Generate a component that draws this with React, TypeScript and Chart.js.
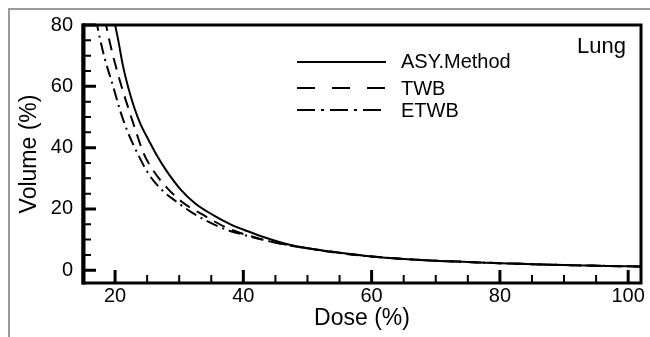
import React, { useEffect, useRef } from 'react';
import { Chart, registerables } from 'chart.js';

Chart.register(...registerables);

// ---- Data ----
const asyDose = [19.8, 20.5, 21.2, 22.0, 23.0, 24.0, 25.2, 26.5, 28.0, 30.2, 32.5, 35.3, 38.0, 40.6, 43.5, 46.9, 50, 55, 60, 65, 70, 75, 80, 85, 90, 95, 100, 102];
const asyVolume = [82, 75, 67, 60, 53, 47.5, 42.6, 37.5, 32.5, 26.4, 21.8, 18.0, 15.0, 12.8, 10.6, 8.5, 7.2, 5.7, 4.5, 3.7, 3.1, 2.7, 2.3, 2.0, 1.7, 1.5, 1.3, 1.25];

const twbDose = [18.4, 19.0, 19.8, 21.0, 22.2, 23.3, 24.4, 25.8, 28.1, 30.5, 33.6, 37.5, 42, 47, 52, 60, 65, 70, 75, 80, 85, 90, 95, 100, 102];
const twbVolume = [82, 76, 69, 60, 52, 45, 38.4, 33, 26.9, 22.2, 18.2, 13.8, 10.6, 8.2, 6.6, 4.5, 3.7, 3.1, 2.7, 2.3, 2.0, 1.7, 1.5, 1.3, 1.25];

const etwbDose = [17.0, 17.6, 18.4, 19.7, 20.8, 22.0, 23.6, 25.2, 27.3, 29.5, 32.0, 36.4, 40, 44, 48, 55, 60, 65, 70, 75, 80, 85, 90, 95, 100, 102];
const etwbVolume = [82, 76, 69, 60, 52, 45, 37.7, 31.5, 26.2, 22.5, 18.8, 14.0, 11.6, 9.5, 7.9, 5.6, 4.5, 3.7, 3.1, 2.7, 2.3, 2.0, 1.7, 1.5, 1.3, 1.25];

const seriesNames = ['ASY.Method', 'TWB', 'ETWB'];
const panelLabel = 'Lung';
const xTitle = 'Dose (%)';
const yTitle = 'Volume (%)';
const xTickLabels = [20, 40, 60, 80, 100];
const yTickLabels = [0, 20, 40, 60, 80];
const xMinorTicks = [25, 30, 35, 45, 50, 55, 65, 70, 75, 85, 90, 95];
const yMinorTicks = [5, 10, 15, 25, 30, 35, 45, 50, 55, 65, 70, 75];

const FONT = '"Liberation Sans", Arial, Helvetica, sans-serif';
const DASHES: number[][] = [[], [12, 8], [12, 5, 2, 5]];
const LEGEND_DASHES: number[][] = [[], [18, 17], [18, 6, 3, 6]];

const toPoints = (xs: number[], ys: number[]) => xs.map((x, i) => ({ x, y: ys[i] }));

export default function App() {
  const ref = useRef<HTMLCanvasElement>(null);

  useEffect(() => {
    if (!ref.current) return;
    const series = [
      toPoints(asyDose, asyVolume),
      toPoints(twbDose, twbVolume),
      toPoints(etwbDose, etwbVolume),
    ];

    const backgroundPlugin = {
      id: 'pageBg',
      beforeDraw(chart: any) {
        const { ctx, width, height } = chart;
        ctx.save();
        ctx.fillStyle = '#ffffff';
        ctx.fillRect(0, 0, width, height);
        ctx.strokeStyle = '#9a9a9a';
        ctx.lineWidth = 2;
        ctx.beginPath();
        ctx.moveTo(9, height);
        ctx.lineTo(9, 9);
        ctx.lineTo(width, 9);
        ctx.stroke();
        ctx.restore();
      },
    };

    const framePlugin = {
      id: 'frameTicks',
      afterDraw(chart: any) {
        const { ctx } = chart;
        const xs = chart.scales.x;
        const ys = chart.scales.y;
        const left = xs.getPixelForValue(xs.min);
        const right = xs.getPixelForValue(xs.max);
        const top = ys.getPixelForValue(ys.max);
        const bottom = ys.getPixelForValue(ys.min);
        ctx.save();
        ctx.setLineDash([]);
        ctx.strokeStyle = '#000';
        ctx.lineCap = 'butt';
        ctx.lineWidth = 2;
        ctx.beginPath();
        xMinorTicks.forEach((v) => {
          const p = xs.getPixelForValue(v);
          ctx.moveTo(p, bottom);
          ctx.lineTo(p, bottom - 8);
        });
        yMinorTicks.forEach((v) => {
          const p = ys.getPixelForValue(v);
          ctx.moveTo(left, p);
          ctx.lineTo(left + 8, p);
        });
        ctx.stroke();
        ctx.lineWidth = 3;
        ctx.beginPath();
        xTickLabels.forEach((v) => {
          const p = xs.getPixelForValue(v);
          ctx.moveTo(p, bottom);
          ctx.lineTo(p, bottom - 13);
        });
        yTickLabels.forEach((v) => {
          const p = ys.getPixelForValue(v);
          ctx.moveTo(left, p);
          ctx.lineTo(left + 13, p);
        });
        ctx.stroke();
        // frame
        ctx.lineWidth = 3;
        ctx.strokeRect(left, top, right - left, bottom - top);
        ctx.lineWidth = 4;
        ctx.beginPath();
        ctx.moveTo(left + 0.5, top - 1.5);
        ctx.lineTo(left + 0.5, bottom + 1.5);
        ctx.stroke();

        ctx.fillStyle = '#000';
        ctx.font = `22px ${FONT}`;
        ctx.textAlign = 'right';
        ctx.textBaseline = 'alphabetic';
        ctx.fillText(panelLabel, right - 15, top + 28);

        const legendRows = [62, 88, 110];
        const textRows = [62, 89, 111];
        ctx.font = `20px ${FONT}`;
        ctx.textAlign = 'left';
        ctx.textBaseline = 'middle';
        seriesNames.forEach((name, i) => {
          ctx.lineWidth = 2;
          ctx.setLineDash(LEGEND_DASHES[i]);
          ctx.beginPath();
          ctx.moveTo(297, legendRows[i]);
          ctx.lineTo(386, legendRows[i]);
          ctx.stroke();
          ctx.setLineDash([]);
          ctx.fillText(name, 401, textRows[i]);
        });
        ctx.restore();
      },
    };

    const chart = new Chart(ref.current, {
      type: 'line',
      data: {
        datasets: series.map((pts, i) => ({
          label: seriesNames[i],
          data: pts,
          borderColor: '#000',
          backgroundColor: '#000',
          borderWidth: 2,
          borderDash: DASHES[i],
          pointRadius: 0,
          fill: false,
          cubicInterpolationMode: 'monotone' as const,
          clip: 0,
        })),
      },
      options: {
        animation: false,
        responsive: false,
        devicePixelRatio: 1,
        layout: { padding: { left: 0, top: 25, right: 9, bottom: 0 } },
        plugins: {
          legend: { display: false },
          tooltip: { enabled: false },
        },
        scales: {
          x: {
            type: 'linear',
            min: 15,
            max: 102,
            afterBuildTicks: (s: any) => {
              s.ticks = xTickLabels.map((v) => ({ value: v }));
            },
            afterFit: (s: any) => {
              s.height = 54;
            },
            grid: { display: false, drawTicks: false },
            border: { display: false },
            ticks: {
              color: '#000',
              font: { family: FONT, size: 20, lineHeight: 1.2 },
              padding: 1,
              maxRotation: 0,
              autoSkip: false,
            },
            title: {
              display: true,
              text: xTitle,
              color: '#000',
              font: { family: FONT, size: 23, lineHeight: 1.2 },
              padding: { top: 0, bottom: 5 },
            },
          },
          y: {
            type: 'linear',
            min: -4.15,
            max: 80,
            afterBuildTicks: (s: any) => {
              s.ticks = yTickLabels.map((v) => ({ value: v }));
            },
            afterFit: (s: any) => {
              s.width = 83;
            },
            grid: { display: false, drawTicks: false },
            border: { display: false },
            ticks: {
              color: '#000',
              font: { family: FONT, size: 20, lineHeight: 1.2 },
              padding: 10,
              autoSkip: false,
            },
            title: {
              display: true,
              text: yTitle,
              color: '#000',
              font: { family: FONT, size: 23, lineHeight: 1.2 },
              padding: { top: 16, bottom: 0 },
            },
          },
        },
      },
      plugins: [backgroundPlugin, framePlugin],
    } as any);
    return () => chart.destroy();
  }, []);

  return (
    <div style={{ position: 'absolute', left: 0, top: 0, width: 650, height: 337 }}>
      <canvas ref={ref} width={650} height={337} style={{ display: 'block' }} />
    </div>
  );
}
